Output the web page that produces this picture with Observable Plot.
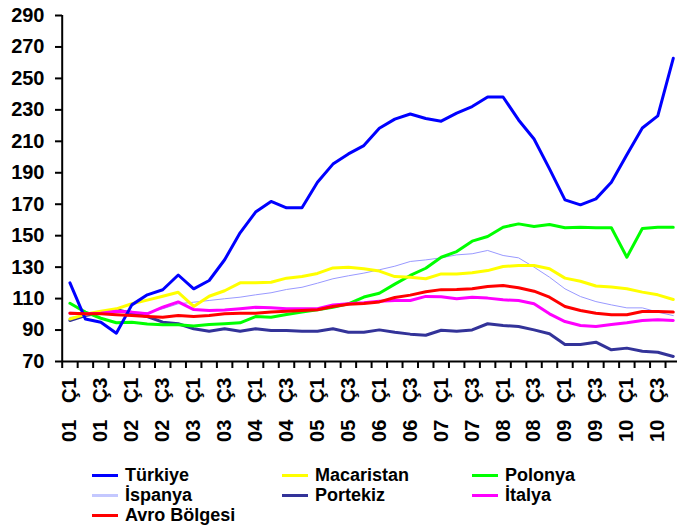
<!DOCTYPE html>
<html><head><meta charset="utf-8">
<script src="https://cdn.jsdelivr.net/npm/d3@7"></script>
<script src="https://cdn.jsdelivr.net/npm/@observablehq/plot@0.6"></script>
<style>
body{margin:0;background:#fff;font-family:"Liberation Sans",Arial,sans-serif;}
#chart{width:677px;height:527px;position:relative;overflow:hidden;background:#fff}
#legend{position:absolute;left:0;top:465px;width:677px;height:62px}
.item{position:absolute;display:flex;align-items:center;font-weight:bold;font-size:18px;height:20px;line-height:20px;white-space:nowrap;color:#000}
.sw{width:26px;height:3px;margin-right:7px}
</style></head><body><div id="chart"><div id="plot"></div><div id="legend"></div></div>
<script>
const quarters = ["01 Ç1","01 Ç2","01 Ç3","01 Ç4","02 Ç1","02 Ç2","02 Ç3","02 Ç4","03 Ç1","03 Ç2","03 Ç3","03 Ç4","04 Ç1","04 Ç2","04 Ç3","04 Ç4","05 Ç1","05 Ç2","05 Ç3","05 Ç4","06 Ç1","06 Ç2","06 Ç3","06 Ç4","07 Ç1","07 Ç2","07 Ç3","07 Ç4","08 Ç1","08 Ç2","08 Ç3","08 Ç4","09 Ç1","09 Ç2","09 Ç3","09 Ç4","10 Ç1","10 Ç2","10 Ç3","10 Ç4"];
const yTicks = [70, 90, 110, 130, 150, 170, 190, 210, 230, 250, 270, 290];

const turkiye = [120, 97, 95, 88, 106, 112.4, 115.6, 125, 116.2, 121.5, 134.7, 151.8, 165, 171.8, 167.7, 167.7, 184, 195.5, 202, 207.3, 218.3, 224.1, 227.4, 224.5, 222.8, 227.9, 232.1, 238.2, 238.2, 223.6, 211.5, 192.5, 172.8, 169.6, 173.4, 184, 201.4, 218.5, 226.2, 262.8];
const macaristan = [97, 100, 102, 103.5, 106.7, 109, 111.5, 114, 105, 111.5, 115, 120, 120, 120.4, 123, 124, 126, 129.5, 130, 129, 127.5, 124, 123.6, 122.6, 125.7, 125.7, 126.4, 127.8, 130.4, 131, 131, 129, 123, 121, 118, 117.3, 116.2, 114.1, 112.4, 109.4];
const polonya = [107, 101.4, 97.5, 94.6, 95, 93.9, 93.3, 93.3, 92.5, 93.5, 94, 94.6, 98.6, 98.2, 99.9, 101.4, 102.9, 104.5, 106.7, 111, 113.4, 119.2, 124.7, 129.3, 136.3, 139.9, 146.5, 149.5, 155.4, 157.5, 155.8, 157.1, 155, 155.4, 155, 155, 136.3, 154.6, 155.4, 155.4];
const ispanya = [98, 99, 100, 101, 101.5, 101, 103.5, 106.7, 107.7, 108.8, 109.9, 110.9, 112.4, 113.7, 115.8, 117.2, 119.8, 122.6, 124.5, 126.2, 128.3, 130.6, 133.6, 134.6, 135.9, 137.8, 138.5, 140.6, 137.4, 135.9, 130, 123.6, 116.2, 111.3, 108.1, 106, 104.1, 104.1, 101.4, 99.2];
const portekiz = [96.1, 99.2, 101, 103, 100.7, 98.6, 95, 94, 90.8, 89.3, 90.8, 89.3, 90.8, 89.7, 89.7, 89.3, 89.3, 90.8, 88.6, 88.6, 90.1, 88.6, 87.4, 86.7, 89.9, 89.3, 90.1, 94, 92.9, 92.3, 90.1, 87.6, 80.8, 80.8, 82.3, 77.4, 78.5, 76.5, 75.9, 73.2];
const italya = [100.7, 100.3, 100.7, 102, 101.4, 100.3, 104.5, 107.9, 103, 102.4, 102.7, 103.5, 104.5, 104.1, 103.5, 103.5, 103.5, 106, 106.7, 107.3, 108.3, 108.8, 108.8, 111.4, 111.1, 109.9, 110.9, 110.3, 109.2, 108.8, 106.7, 100.3, 95.4, 92.9, 92.3, 93.5, 94.6, 96.1, 96.5, 96.1];
const avro = [100.7, 100.3, 100.3, 99.7, 99.2, 98.6, 98.2, 99.2, 98.6, 99.2, 100.3, 100.7, 100.7, 101.4, 102, 102.4, 102.9, 105, 106.4, 106.9, 107.9, 110.7, 112.2, 114.3, 115.7, 115.8, 116.2, 117.7, 118.3, 116.9, 114.7, 110.9, 105, 102.4, 100.7, 99.7, 99.7, 101.8, 101.8, 101.4];

const names = ["Türkiye", "Macaristan", "Polonya", "İspanya", "Portekiz", "İtalya", "Avro Bölgesi"];
const colors = ["#0000ff", "#ffff00", "#00ff00", "#9999ff", "#333399", "#ff00ff", "#ff0000"];
const legendColors = ["#0000ff", "#ffff00", "#00ff00", "#c4c8ff", "#333399", "#ff00ff", "#ff0000"];
const widths = [3, 3, 3, 1, 3, 3, 3];
const values = [turkiye, macaristan, polonya, ispanya, portekiz, italya, avro];
const drawOrder = [3, 4, 2, 1, 5, 0, 6];

const labelIdx = d3.range(0, quarters.length, 2);
const boundaries = d3.range(-0.5, quarters.length, 1);

const plot = Plot.plot({
  width: 677, height: 465,
  marginTop: 15, marginBottom: 104, marginLeft: 62, marginRight: 0,
  style: {fontFamily: "'Liberation Sans', Arial, sans-serif", fontSize: "20px", fontWeight: "bold", color: "#000", background: "#fff"},
  x: {type: "linear", domain: [-0.5, quarters.length - 0.5], range: [61.7, 680.5], axis: null},
  y: {domain: [70, 290], axis: null},
  marks: [
    ...drawOrder.map(k => Plot.lineY(values[k], {x: (d, i) => i, y: d => d, stroke: colors[k], strokeWidth: widths[k], strokeLinejoin: "round"})),
    Plot.ruleY([70], {stroke: "#000", strokeWidth: 2}),
    Plot.ruleX([-0.5], {stroke: "#000", strokeWidth: 2}),
    Plot.axisY(yTicks, {anchor: "left", tickSize: 7, tickPadding: 11, strokeWidth: 2, label: null, fontSize: 20, fontWeight: "bold"}),
    Plot.axisX(boundaries, {anchor: "bottom", tickSize: 7, strokeWidth: 2, tickFormat: () => "", label: null}),
    Plot.axisX(labelIdx, {anchor: "bottom", tickSize: 0, tickPadding: 16, tickRotate: -90, label: null, fontSize: 20, fontWeight: "bold",
      tickFormat: i => quarters[i].replace(" ", "\u00a0\u00a0\u00a0")})
  ]
});
document.getElementById("plot").appendChild(plot);

const legend = document.getElementById("legend");
const colLeft = [92, 282, 472];
names.forEach((n, k) => {
  const it = document.createElement("div");
  it.className = "item";
  it.style.left = colLeft[k % 3] + "px";
  it.style.top = (Math.floor(k / 3) * 20) + "px";
  const sw = document.createElement("span");
  sw.className = "sw";
  sw.style.background = legendColors[k];
  it.appendChild(sw);
  it.appendChild(document.createTextNode(n));
  legend.appendChild(it);
});
</script>
</body></html>
